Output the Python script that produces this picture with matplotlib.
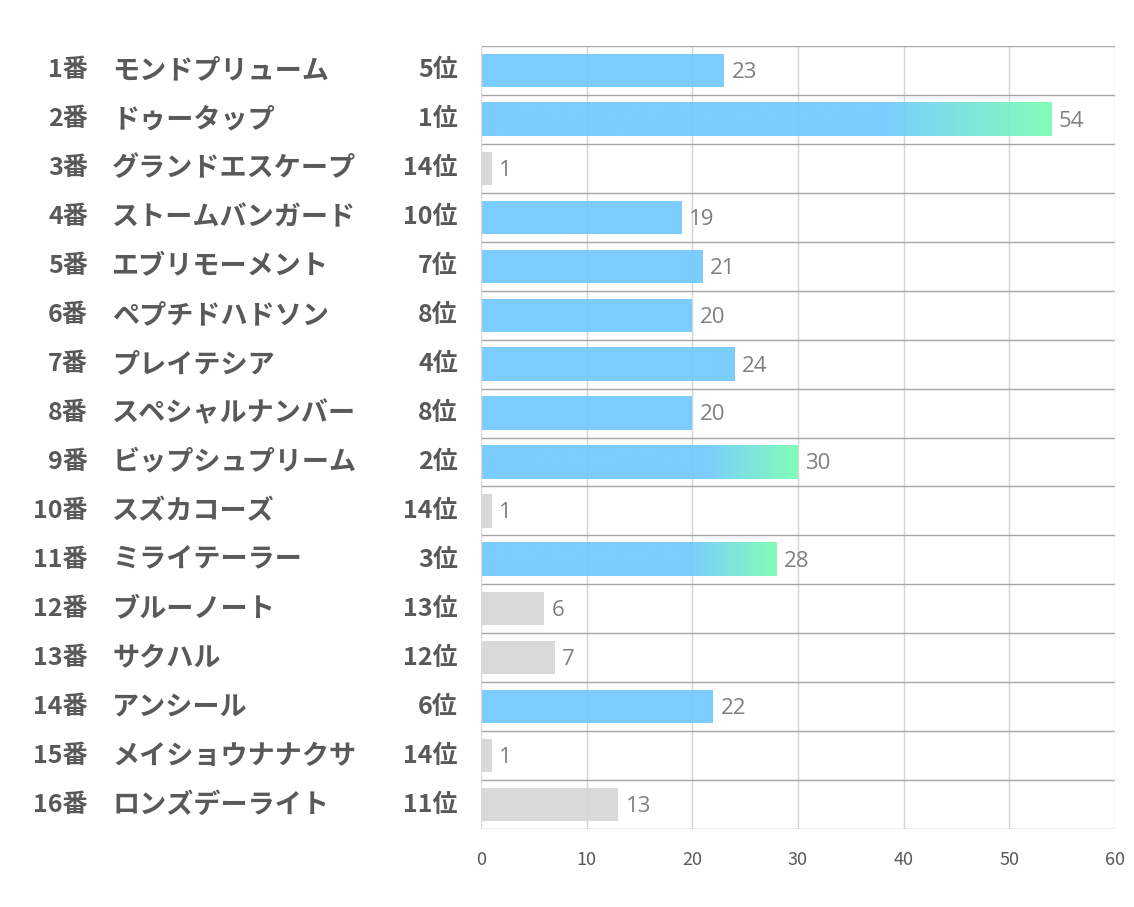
"""Horizontal bar chart of horse scores with rank labels."""

import numpy as np
import matplotlib.pyplot as plt
from matplotlib.colors import LinearSegmentedColormap

plt.rcParams["font.family"] = ["Noto Sans CJK JP", "DejaVu Sans"]

numbers = [f"{i}番" for i in range(1, 17)]
names = [
    "モンドプリューム", "ドゥータップ", "グランドエスケープ", "ストームバンガード",
    "エブリモーメント", "ペプチドハドソン", "プレイテシア", "スペシャルナンバー",
    "ビップシュプリーム", "スズカコーズ", "ミライテーラー", "ブルーノート",
    "サクハル", "アンシール", "メイショウナナクサ", "ロンズデーライト",
]
ranks = [5, 1, 14, 10, 7, 8, 4, 8, 2, 14, 3, 13, 12, 6, 14, 11]
values = [23, 54, 1, 19, 21, 20, 24, 20, 30, 1, 28, 6, 7, 22, 1, 13]
x_ticks = [0, 10, 20, 30, 40, 50, 60]

# slightly deeper than the target tones, since bars are drawn a bit transparent
BLUE = "#71C8FF"
GREEN = "#78FDB3"
GRAY = "#D6D6D6"
LABEL = "#595959"
VALUE = "#7F7F7F"

fig = plt.figure(figsize=(11.34, 9.07), dpi=100)
ax = fig.add_axes([481 / 1134, 1 - 829 / 907, 634 / 1134, 783 / 907])

n = len(values)
ypos = np.arange(n)
height = 0.68
grad_cmap = LinearSegmentedColormap.from_list(
    "bg", [(0.0, BLUE), (0.7, BLUE), (1.0, GREEN)]
)
grad = np.linspace(0, 1, 256).reshape(1, -1)

for y, v, r in zip(ypos, values, ranks):
    if r <= 3:
        ax.imshow(grad, cmap=grad_cmap, aspect="auto", interpolation="bilinear",
                  extent=[0, v, y + height / 2, y - height / 2], zorder=2,
                  alpha=0.93)
    else:
        color = BLUE if r <= 10 else GRAY
        ax.barh(y, v, height=height, color=color, zorder=2, alpha=0.93)
    ax.text(v + 0.7, y + 0.04, str(v), va="center", ha="left", fontsize=16,
            color=VALUE, family=["Open Sans", "DejaVu Sans"])

ax.set_xlim(0, 60)
ax.set_ylim(n - 0.5, -0.5)
ax.set_xticks(x_ticks)
ax.set_yticks([])
for x in x_ticks[1:]:
    ax.axvline(x, color="#D4D4D4", lw=1, zorder=1)
for b in np.arange(n + 1) - 0.5:
    ax.axhline(b, color="#A6A6A6", lw=1, zorder=1)
for s in ax.spines.values():
    s.set_visible(False)
ax.axvline(0, color="#D9D9D9", lw=1, zorder=3)
ax.tick_params(axis="x", length=0, pad=16, labelsize=13, labelcolor=LABEL)

for y, num, name, r in zip(ypos, numbers, names, ranks):
    ax.text(-37.2, y, num, ha="right", va="center", fontsize=18,
            fontweight="bold", color=LABEL)
    ax.text(-34.9, y, name, ha="left", va="center", fontsize=19.5,
            fontweight="bold", color=LABEL)
    ax.text(-2.2, y, f"{r}位", ha="right", va="center", fontsize=18,
            fontweight="bold", color=LABEL)

fig.savefig("out.png", dpi=100)
